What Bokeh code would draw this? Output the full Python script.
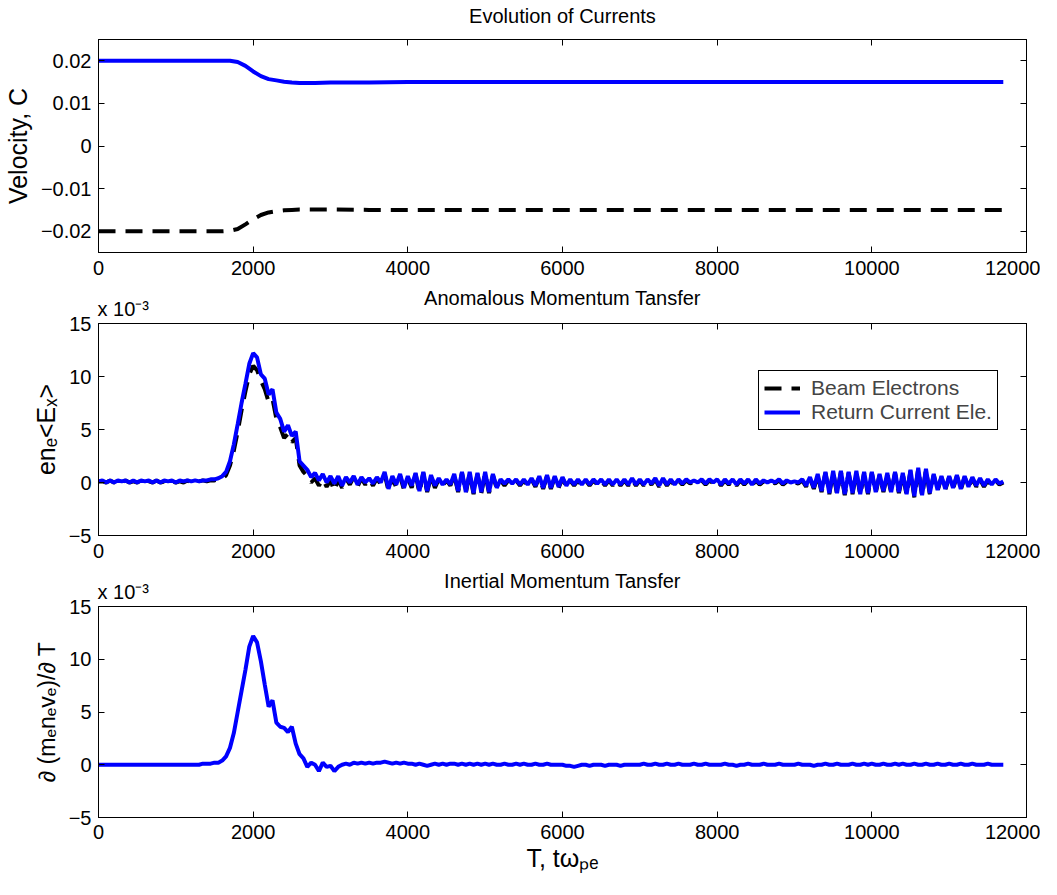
from bokeh.plotting import figure
from bokeh.layouts import column
from bokeh.models import Range1d, LinearAxis, Legend, LegendItem, FixedTicker
from bokeh.embed import file_html
from bokeh.resources import INLINE

# ---------------- data ----------------
X_TICKS = [0, 2000, 4000, 6000, 8000, 10000, 12000]
V_TICKS = [-0.02, -0.01, 0, 0.01, 0.02]
V_TICK_LABELS = ["\u22120.02", "\u22120.01", "0", "0.01", "0.02"]
M_TICKS = [-5, 0, 5, 10, 15]
M_TICK_LABELS = ["\u22125", "0", "5", "10", "15"]
MULTIPLIER_TEXT = "x 10\u207b\u00b3"

TITLES = ["Evolution of Currents", "Anomalous Momentum Tansfer", "Inertial Momentum Tansfer"]
SERIES_NAMES = ["Beam Electrons", "Return Current Ele."]

# Panel 1: drift velocities (units of c)
T1 = [0, 1000, 1600, 1700, 1800, 1900, 2000, 2100, 2200, 2300, 2400, 2500, 2600,
      2700, 2800, 3000, 3500, 4000, 6000, 8000, 10000, 11700]
V_RETURN = [0.0200, 0.0200, 0.0200, 0.0200, 0.0197, 0.0188, 0.0175, 0.0164, 0.0157,
            0.0154, 0.0151, 0.0149, 0.0148, 0.0148, 0.0148, 0.0149, 0.0149, 0.0150,
            0.0150, 0.0150, 0.0150, 0.0150]
V_BEAM = [-0.0200, -0.0200, -0.0200, -0.0199, -0.0195, -0.0184, -0.0172, -0.0162,
          -0.0156, -0.0153, -0.0151, -0.0150, -0.0149, -0.0149, -0.0149, -0.0149,
          -0.0150, -0.0150, -0.0150, -0.0150, -0.0150, -0.0150]

# Panels 2 and 3: sampled every 50 time units from 0 to 11700 (values x 1e-3)
T_STEP = 50
T_END = 11700

ANOM_RETURN = [
    0.1, 0.2, 0.0, 0.2, 0.0, 0.2, 0.1, 0.2, 0.0, 0.2, 0.0, 0.2, 0.1, 0.2, 0.0, 0.2, 0.0, 0.2, 0.1, 0.2,
    0.0, 0.2, 0.1, 0.2, 0.1, 0.2, 0.1, 0.2, 0.2, 0.3, 0.3, 0.4, 0.6, 1.0, 2.0, 3.6, 5.5, 7.5, 9.3, 11.2,
    12.2, 11.8, 10.2, 9.8, 8.3, 8.8, 6.6, 6.0, 4.8, 5.4, 4.4, 4.8, 2.0, 1.6, 1.2, 0.5, 0.9, 0.2, 0.8, 0.0,
    0.6, -0.1, 0.6, -0.3, 0.5, 0.0, 0.6, -0.2, 0.5, 0.0, 0.4, -0.1, 0.5, 0.0, 1.0, -0.6, 0.6, -0.2, 0.8, -0.5,
    0.6, -0.3, 0.9, -0.8, 1.0, -0.8, 0.7, -0.3, 0.4, -0.2, 0.3, -0.2, 0.8, -0.8, 1.0, -0.9, 1.0, -1.0, 0.9, -0.9,
    1.0, -0.9, 0.8, -0.5, 0.3, -0.1, 0.3, -0.1, 0.3, -0.2, 0.3, -0.2, 0.4, -0.3, 0.6, -0.5, 0.7, -0.5, 0.6, -0.4,
    0.5, -0.3, 0.3, -0.2, 0.3, -0.2, 0.3, -0.2, 0.3, -0.1, 0.3, -0.2, 0.3, -0.2, 0.3, -0.2, 0.3, -0.2, 0.4, -0.2,
    0.3, -0.2, 0.3, -0.1, 0.4, -0.3, 0.4, -0.2, 0.3, -0.2, 0.3, -0.1, 0.3, 0.0, 0.2, 0.0, 0.3, -0.1, 0.3, 0.0,
    0.3, -0.2, 0.3, -0.1, 0.3, -0.2, 0.3, -0.1, 0.3, -0.2, 0.3, -0.1, 0.2, 0.0, 0.2, 0.0, 0.3, -0.1, 0.2, 0.0,
    0.1, 0.0, 0.3, -0.3, 0.5, -0.5, 0.8, -0.8, 1.0, -1.0, 1.1, -1.0, 1.1, -1.1, 1.0, -1.0, 1.1, -1.1, 1.0, -1.0,
    1.0, -0.9, 0.8, -0.8, 0.9, -0.9, 1.0, -0.9, 0.9, -1.1, 1.2, -1.3, 1.4, -1.2, 1.3, -1.0, 0.8, -0.7, 0.6, -0.6,
    0.6, -0.5, 0.7, -0.6, 0.6, -0.4, 0.5, -0.3, 0.4, -0.3, 0.3, -0.2, 0.3, -0.1, 0.1,
]

ANOM_BEAM = [
    0.1, 0.1, 0.0, 0.2, 0.0, 0.1, 0.0, 0.2, 0.0, 0.1, 0.0, 0.2, 0.0, 0.1, 0.0, 0.2, 0.0, 0.1, 0.0, 0.1,
    0.0, 0.1, 0.0, 0.2, 0.0, 0.1, 0.1, 0.2, 0.1, 0.2, 0.2, 0.3, 0.3, 0.7, 1.6, 3.0, 4.8, 6.8, 8.6, 10.2,
    11.0, 10.6, 9.6, 8.8, 7.6, 7.9, 6.0, 5.2, 4.2, 4.6, 3.8, 4.2, 1.6, 1.0, 0.6, 0.0, 0.4, -0.3, 0.3, -0.4,
    0.2, -0.8, 0.3, -0.5, 0.4, -0.2, 0.5, -0.4, 0.4, -0.2, 0.3, -0.3, 0.4, -0.2, 0.8, -0.8, 0.5, -0.5, 0.6, -0.7,
    0.4, -0.5, 0.8, -1.0, 0.9, -0.9, 0.6, -0.5, 0.3, -0.3, 0.2, -0.3, 0.7, -0.9, 0.9, -1.0, 0.9, -1.1, 0.8, -1.0,
    0.9, -1.0, 0.7, -0.6, 0.2, -0.3, 0.2, -0.2, 0.2, -0.3, 0.2, -0.3, 0.3, -0.4, 0.5, -0.6, 0.6, -0.6, 0.5, -0.5,
    0.4, -0.4, 0.2, -0.3, 0.2, -0.3, 0.2, -0.3, 0.2, -0.2, 0.2, -0.3, 0.2, -0.3, 0.2, -0.3, 0.2, -0.3, 0.3, -0.3,
    0.2, -0.3, 0.2, -0.2, 0.3, -0.4, 0.3, -0.3, 0.2, -0.3, 0.2, -0.2, 0.2, -0.1, 0.1, -0.1, 0.2, -0.2, 0.2, -0.1,
    0.2, -0.3, 0.2, -0.2, 0.2, -0.3, 0.2, -0.2, 0.2, -0.3, 0.2, -0.2, 0.1, -0.1, 0.1, -0.1, 0.2, -0.2, 0.1, -0.1,
    0.0, -0.1, 0.2, -0.4, 0.4, -0.6, 0.7, -0.9, 0.9, -1.1, 1.0, -1.1, 1.0, -1.2, 0.9, -1.1, 1.0, -1.2, 0.9, -1.1,
    0.9, -1.0, 0.7, -0.9, 0.8, -1.0, 0.9, -1.0, 0.8, -1.2, 1.1, -1.4, 1.3, -1.3, 1.2, -1.1, 0.7, -0.8, 0.5, -0.7,
    0.5, -0.6, 0.6, -0.7, 0.5, -0.5, 0.4, -0.4, 0.3, -0.4, 0.2, -0.3, 0.2, -0.2, 0.0,
]

INERTIAL = [
    0.0, 0.0, 0.0, 0.0, 0.0, 0.0, 0.0, 0.0, 0.0, 0.0, 0.0, 0.0, 0.0, 0.0, 0.0, 0.0, 0.0, 0.0, 0.0, 0.0,
    0.0, 0.0, 0.0, 0.0, 0.0, 0.0, 0.0, 0.1, 0.1, 0.1, 0.2, 0.2, 0.4, 0.8, 1.6, 3.0, 5.0, 7.0, 9.0, 11.2,
    12.2, 11.6, 9.8, 7.6, 5.5, 6.1, 4.0, 3.6, 3.5, 3.1, 3.6, 2.0, 1.0, 0.6, -0.2, 0.2, 0.0, -0.6, 0.2, -0.2,
    -0.1, -0.6, -0.2, 0.0, 0.1, 0.0, 0.2, 0.1, 0.2, 0.1, 0.2, 0.1, 0.2, 0.2, 0.3, 0.2, 0.1, 0.2, 0.1, 0.2,
    0.1, 0.1, 0.0, 0.1, 0.0, -0.1, 0.0, 0.1, 0.0, 0.1, 0.0, 0.1, 0.1, 0.0, 0.1, 0.0, 0.1, 0.0, 0.1, 0.0,
    0.1, 0.0, 0.1, 0.0, 0.0, 0.1, 0.0, 0.0, 0.1, 0.0, 0.1, 0.0, 0.0, 0.1, 0.0, 0.0, 0.1, 0.0, 0.0, 0.0,
    0.0, -0.1, -0.1, -0.2, -0.1, 0.0, 0.0, -0.1, 0.0, 0.0, 0.0, -0.1, 0.0, 0.0, 0.0, -0.1, 0.0, 0.0, 0.0, 0.0,
    0.0, 0.1, 0.0, 0.0, 0.1, 0.0, 0.0, 0.1, 0.0, 0.0, 0.1, 0.0, 0.0, 0.0, 0.1, 0.0, 0.0, 0.1, 0.0, 0.0,
    0.0, 0.0, 0.1, 0.0, 0.0, -0.1, 0.0, 0.0, 0.1, 0.0, 0.0, 0.0, 0.1, 0.0, 0.0, 0.0, 0.1, 0.0, 0.0, 0.0,
    0.0, 0.1, 0.0, 0.0, 0.0, -0.1, 0.0, 0.0, 0.1, 0.0, 0.0, 0.1, 0.0, 0.0, 0.0, 0.1, 0.0, 0.0, 0.1, 0.0,
    0.1, 0.0, 0.0, 0.1, 0.0, 0.0, 0.1, 0.0, 0.1, 0.0, 0.0, 0.1, 0.0, 0.0, 0.1, 0.0, 0.0, 0.1, 0.0, 0.0,
    0.1, 0.0, 0.0, 0.1, 0.0, 0.0, 0.1, 0.0, 0.0, 0.0, 0.1, 0.0, 0.0, 0.0, 0.0,
]

T = list(range(0, T_END + 1, T_STEP))
assert len(T) == len(ANOM_RETURN) == len(ANOM_BEAM) == len(INERTIAL)

# ---------------- styling ----------------
FONT = "Liberation Sans"
TICK_FS = "20px"
TITLE_FS = "20px"
BLUE = "#0000ff"
DASH = "17 10"
LW = 4
MULT_X = 320          # data position that centres the x10^-3 note over the left corner


def hidden_axis(ticks):
    return LinearAxis(ticker=FixedTicker(ticks=ticks), major_tick_in=6, major_tick_out=0,
                      minor_tick_line_color=None, major_label_text_color=None,
                      major_label_text_font_size="1px", major_label_standoff=0,
                      axis_line_color="black", major_tick_line_color="black")


def make_fig(height, top, bottom, yr, yticks, ylabels, ylabel, ylabel_fs, title, multiplier,
             title_standoff=6):
    p = figure(width=1040, height=height, x_range=Range1d(0, 12000), y_range=Range1d(*yr),
               output_backend="svg", toolbar_location=None,
               min_border_left=89, min_border_right=14,
               min_border_top=top, min_border_bottom=bottom)
    p.xgrid.visible = False
    p.ygrid.visible = False
    p.outline_line_color = "black"
    p.outline_line_width = 1
    bx = p.below[0]
    ly = p.left[0]
    bx.ticker = FixedTicker(ticks=X_TICKS)
    ly.ticker = FixedTicker(ticks=yticks)
    ly.major_label_overrides = {v: s for v, s in zip(yticks, ylabels)}
    for ax in (bx, ly):
        ax.major_tick_in = 6
        ax.major_tick_out = 0
        ax.minor_tick_line_color = None
        ax.axis_line_color = "black"
        ax.major_tick_line_color = "black"
        ax.major_label_text_font = FONT
        ax.major_label_text_font_size = TICK_FS
        ax.major_label_text_color = "black"
        ax.axis_label_text_font = FONT
        ax.axis_label_text_font_style = "normal"
        ax.axis_label_text_color = "black"
    bx.major_label_standoff = 8
    ly.major_label_standoff = 7
    ly.axis_label = ylabel
    ly.axis_label_text_font_size = ylabel_fs
    ly.axis_label_standoff = 6

    p.add_layout(hidden_axis(yticks), "right")
    top_ax = hidden_axis(X_TICKS)
    p.add_layout(top_ax, "above")

    if multiplier:
        note = LinearAxis(ticker=FixedTicker(ticks=[MULT_X]),
                          major_label_overrides={MULT_X: MULTIPLIER_TEXT},
                          major_tick_in=0, major_tick_out=0, minor_tick_line_color=None,
                          axis_line_color=None, major_tick_line_color=None,
                          major_label_text_font=FONT, major_label_text_font_size=TICK_FS,
                          major_label_text_color="black", major_label_standoff=4,
                          axis_label=title, axis_label_text_font=FONT,
                          axis_label_text_font_size=TITLE_FS,
                          axis_label_text_font_style="normal",
                          axis_label_text_color="black")
        try:
            note.axis_label_standoff = -14
        except Exception:
            note.axis_label_standoff = 0
        p.add_layout(note, "above")
    else:
        top_ax.axis_label = title
        top_ax.axis_label_text_font = FONT
        top_ax.axis_label_text_font_size = TITLE_FS
        top_ax.axis_label_text_font_style = "normal"
        top_ax.axis_label_text_color = "black"
        top_ax.axis_label_standoff = title_standoff
    return p


# ---------------- panel 1 ----------------
p1 = make_fig(283, 39, 31, (-0.025, 0.025), V_TICKS, V_TICK_LABELS,
              "Velocity, C", "25px", TITLES[0], False, title_standoff=13)
p1.line(T1, V_BEAM, line_color="black", line_width=LW, line_dash=DASH)
p1.line(T1, V_RETURN, line_color=BLUE, line_width=LW)

# ---------------- panel 2 ----------------
p2 = make_fig(283, 38, 31, (-5, 15), M_TICKS, M_TICK_LABELS,
              "en\u2091<E\u2093>", "25px", TITLES[1], True)
r_beam = p2.line(T, ANOM_BEAM, line_color="black", line_width=LW, line_dash=DASH)
r_ret = p2.line(T, ANOM_RETURN, line_color=BLUE, line_width=LW)
legend = Legend(items=[LegendItem(label=SERIES_NAMES[0], renderers=[r_beam]),
                       LegendItem(label=SERIES_NAMES[1], renderers=[r_ret])],
                location=(660, 105), orientation="vertical",
                border_line_color="black", border_line_width=1, border_line_alpha=1,
                background_fill_color="white", background_fill_alpha=1,
                label_text_font=FONT, label_text_font_size="21px",
                glyph_width=36, glyph_height=20, label_height=20,
                padding=5, spacing=0, margin=0, label_standoff=11)
p2.add_layout(legend)

# ---------------- panel 3 ----------------
p3 = make_fig(312, 37, 61, (-5, 15), M_TICKS, M_TICK_LABELS,
              "\u2202 (m\u2091n\u2091v\u2091)/\u2202 T", "23px", TITLES[2], True)
p3.line(T, INERTIAL, line_color=BLUE, line_width=LW)
bx3 = p3.below[0]
bx3.major_label_standoff = 7
bx3.axis_label = "T, t\u03c9\u209a\u2091"
bx3.axis_label_text_font_size = "25px"
bx3.axis_label_standoff = 2

layout = column(p1, p2, p3, spacing=0)
open("out.html", "w").write(file_html(layout, INLINE))
